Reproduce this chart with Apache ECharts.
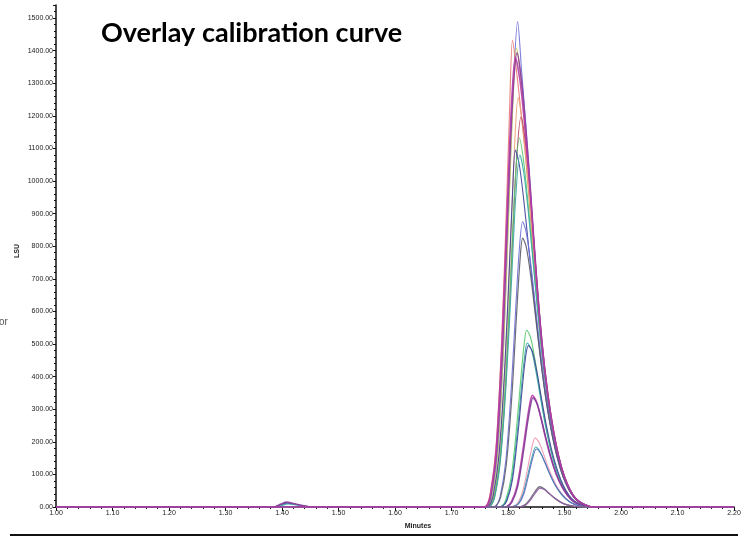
<!DOCTYPE html>
<html>
<head>
<meta charset="utf-8">
<script src="https://cdn.jsdelivr.net/npm/echarts@6/dist/echarts.min.js"></script>
<style>
  html, body { margin: 0; padding: 0; background: #ffffff; }
  #chart { width: 749px; height: 537px; }
</style>
</head>
<body>
<div id="chart"></div>
<script>
// Axis settings
const xTicks = [1.00, 1.10, 1.20, 1.30, 1.40, 1.50, 1.60, 1.70, 1.80, 1.90, 2.00, 2.10, 2.20];
const yTicks = [0, 100, 200, 300, 400, 500, 600, 700, 800, 900, 1000, 1100, 1200, 1300, 1400, 1500];

// Chromatogram traces: [minutes, LSU]
// Highest standard level
const std7a = [[1.00,0],[1.755,0],[1.764,3],[1.772,40],[1.782,175],[1.792,490],[1.802,960],[1.810,1310],[1.817,1489],[1.824,1340],[1.832,1160],[1.840,965],[1.850,710],[1.860,500],[1.870,345],[1.880,232],[1.890,148],[1.900,90],[1.910,50],[1.920,25],[1.935,8],[1.950,0],[2.20,0]];
const std7b = [[1.00,0],[1.752,0],[1.761,3],[1.769,45],[1.779,190],[1.789,520],[1.798,960],[1.803,1230],[1.808,1432],[1.815,1340],[1.824,1195],[1.832,1060],[1.840,890],[1.850,665],[1.860,475],[1.870,332],[1.880,226],[1.890,145],[1.900,88],[1.910,49],[1.920,24],[1.935,7],[1.950,0],[2.20,0]];
const std7c = [[1.00,0],[1.755,0],[1.764,3],[1.772,40],[1.782,172],[1.792,480],[1.802,930],[1.809,1250],[1.815,1408],[1.822,1330],[1.830,1170],[1.840,940],[1.850,695],[1.860,492],[1.870,340],[1.880,230],[1.890,147],[1.900,89],[1.910,50],[1.920,24],[1.935,7],[1.950,0],[2.20,0]];
const std7d = [[1.00,0],[1.37,0],[1.385,0],[1.398,9],[1.408,15],[1.42,11],[1.435,5],[1.455,0],[1.754,0],[1.763,3],[1.770,38],[1.780,168],[1.790,472],[1.800,930],[1.808,1250],[1.816,1393],[1.824,1305],[1.832,1150],[1.840,965],[1.850,715],[1.860,505],[1.870,350],[1.880,238],[1.890,152],[1.900,92],[1.910,52],[1.920,26],[1.935,8],[1.950,0],[2.20,0]];
const std7e = [[1.00,0],[1.753,0],[1.762,3],[1.769,40],[1.779,175],[1.789,490],[1.799,935],[1.806,1230],[1.813,1380],[1.821,1310],[1.830,1160],[1.840,950],[1.850,705],[1.860,500],[1.870,348],[1.880,236],[1.890,150],[1.900,91],[1.910,51],[1.920,25],[1.935,8],[1.950,0],[2.20,0]];

const std6a = [[1.00,0],[1.758,0],[1.767,3],[1.775,40],[1.785,170],[1.795,430],[1.805,830],[1.812,1120],[1.818,1255],[1.825,1185],[1.833,1040],[1.842,850],[1.850,670],[1.860,480],[1.870,335],[1.880,228],[1.890,145],[1.900,87],[1.910,48],[1.920,23],[1.935,7],[1.950,0],[2.20,0]];
const std6b = [[1.00,0],[1.760,0],[1.769,3],[1.777,38],[1.787,160],[1.797,410],[1.807,780],[1.815,1060],[1.823,1197],[1.830,1130],[1.838,990],[1.846,810],[1.855,610],[1.865,430],[1.875,296],[1.885,195],[1.895,122],[1.905,72],[1.915,38],[1.925,18],[1.940,5],[1.952,0],[2.20,0]];
const std6c = [[1.00,0],[1.759,0],[1.768,3],[1.776,36],[1.786,155],[1.796,395],[1.806,760],[1.813,1010],[1.820,1132],[1.827,1070],[1.835,940],[1.844,770],[1.852,610],[1.862,440],[1.872,305],[1.882,205],[1.892,130],[1.902,78],[1.912,42],[1.922,20],[1.937,6],[1.950,0],[2.20,0]];
const std6d = [[1.00,0],[1.37,0],[1.386,0],[1.399,7],[1.409,12],[1.421,9],[1.436,4],[1.455,0],[1.757,0],[1.766,3],[1.774,38],[1.784,160],[1.794,420],[1.803,760],[1.808,960],[1.813,1095],[1.820,1050],[1.828,940],[1.837,790],[1.846,640],[1.856,480],[1.866,345],[1.876,240],[1.886,160],[1.896,100],[1.906,60],[1.916,32],[1.928,12],[1.945,0],[2.20,0]];
const std6e = [[1.00,0],[1.37,0],[1.386,0],[1.400,5],[1.410,9],[1.422,7],[1.437,3],[1.455,0],[1.760,0],[1.769,3],[1.777,34],[1.787,150],[1.797,385],[1.807,720],[1.814,960],[1.821,1080],[1.828,1025],[1.836,905],[1.845,740],[1.854,580],[1.864,420],[1.874,292],[1.884,196],[1.894,124],[1.904,74],[1.914,40],[1.924,19],[1.938,6],[1.950,0],[2.20,0]];

const std5a = [[1.00,0],[1.769,0],[1.778,3],[1.786,32],[1.796,140],[1.806,370],[1.814,620],[1.820,790],[1.826,875],[1.832,845],[1.840,750],[1.849,610],[1.858,470],[1.868,335],[1.878,232],[1.888,152],[1.898,94],[1.908,54],[1.918,28],[1.930,10],[1.945,0],[2.20,0]];
const std5b = [[1.00,0],[1.770,0],[1.779,3],[1.787,30],[1.797,130],[1.807,345],[1.815,585],[1.821,750],[1.826,825],[1.832,800],[1.840,712],[1.849,580],[1.858,448],[1.868,320],[1.878,222],[1.888,146],[1.898,90],[1.908,52],[1.918,27],[1.930,10],[1.945,0],[2.20,0]];

const std4a = [[1.00,0],[1.779,0],[1.788,2],[1.796,22],[1.806,95],[1.816,260],[1.824,420],[1.829,505],[1.833,543],[1.840,520],[1.848,450],[1.856,362],[1.865,268],[1.875,182],[1.885,118],[1.895,72],[1.905,40],[1.915,20],[1.928,7],[1.942,0],[2.20,0]];
const std4b = [[1.00,0],[1.780,0],[1.789,2],[1.797,20],[1.807,88],[1.817,240],[1.825,390],[1.830,470],[1.834,503],[1.841,485],[1.849,420],[1.857,340],[1.866,252],[1.876,172],[1.886,112],[1.896,68],[1.906,38],[1.916,19],[1.929,7],[1.943,0],[2.20,0]];
const std4c = [[1.00,0],[1.781,0],[1.790,2],[1.798,19],[1.808,85],[1.818,232],[1.826,378],[1.831,458],[1.836,495],[1.843,478],[1.851,415],[1.859,336],[1.868,250],[1.878,170],[1.888,110],[1.898,66],[1.908,36],[1.918,18],[1.930,6],[1.944,0],[2.20,0]];

const std3a = [[1.00,0],[1.789,0],[1.798,2],[1.806,16],[1.816,65],[1.826,170],[1.834,268],[1.839,320],[1.843,343],[1.850,325],[1.858,275],[1.866,215],[1.875,155],[1.885,102],[1.895,63],[1.905,36],[1.915,18],[1.928,6],[1.942,0],[2.20,0]];
const std3b = [[1.00,0],[1.790,0],[1.799,2],[1.807,15],[1.817,62],[1.827,165],[1.835,262],[1.840,312],[1.844,335],[1.851,318],[1.859,270],[1.867,212],[1.876,153],[1.886,100],[1.896,62],[1.906,35],[1.916,17],[1.929,6],[1.943,0],[2.20,0]];

const std2a = [[1.00,0],[1.800,0],[1.809,2],[1.817,12],[1.826,48],[1.834,112],[1.841,172],[1.848,212],[1.855,198],[1.863,162],[1.872,118],[1.882,78],[1.892,48],[1.902,27],[1.912,13],[1.925,4],[1.940,0],[2.20,0]];
const std2b = [[1.00,0],[1.801,0],[1.810,2],[1.818,10],[1.827,42],[1.835,98],[1.842,150],[1.849,184],[1.856,172],[1.864,142],[1.873,104],[1.883,68],[1.893,42],[1.903,24],[1.913,12],[1.926,4],[1.940,0],[2.20,0]];
const std2c = [[1.00,0],[1.802,0],[1.811,2],[1.819,10],[1.828,40],[1.836,95],[1.843,145],[1.850,178],[1.857,167],[1.865,138],[1.874,101],[1.884,66],[1.894,41],[1.904,23],[1.914,11],[1.927,4],[1.941,0],[2.20,0]];

// Lowest standard level
const std1a = [[1.00,0],[1.815,0],[1.823,1],[1.831,8],[1.839,24],[1.847,45],[1.856,62],[1.864,56],[1.872,43],[1.882,28],[1.892,16],[1.904,7],[1.918,2],[1.930,0],[2.20,0]];
const std1b = [[1.00,0],[1.816,0],[1.824,1],[1.832,7],[1.840,22],[1.848,42],[1.857,58],[1.865,53],[1.873,41],[1.883,27],[1.893,15],[1.905,6],[1.919,2],[1.931,0],[2.20,0]];

const traces = [
  { name: 'Std 7 (1)', data: std7a, color: '#6d70d8', width: 1.1 },
  { name: 'Std 7 (2)', data: std7b, color: '#e87474', width: 1.1 },
  { name: 'Std 7 (3)', data: std7c, color: '#c8cf5c', width: 1.1 },
  { name: 'Std 6 (1)', data: std6a, color: '#eca376', width: 1.1 },
  { name: 'Std 6 (2)', data: std6b, color: '#b5405e', width: 1.1 },
  { name: 'Std 6 (3)', data: std6c, color: '#58c86c', width: 1.1 },
  { name: 'Std 6 (4)', data: std6d, color: '#3e3f98', width: 1.1 },
  { name: 'Std 6 (5)', data: std6e, color: '#35aaa2', width: 1.1 },
  { name: 'Std 5 (1)', data: std5a, color: '#6d70d8', width: 1.1 },
  { name: 'Std 5 (2)', data: std5b, color: '#5c5c6c', width: 1.2 },
  { name: 'Std 4 (1)', data: std4a, color: '#58c86c', width: 1.1 },
  { name: 'Std 4 (2)', data: std4b, color: '#35aaa2', width: 1.1 },
  { name: 'Std 4 (3)', data: std4c, color: '#3e3f98', width: 1.1 },
  { name: 'Std 3 (1)', data: std3a, color: '#b83aa4', width: 1.6 },
  { name: 'Std 3 (2)', data: std3b, color: '#7e3c98', width: 1.4 },
  { name: 'Std 2 (1)', data: std2a, color: '#ee92b2', width: 1.1 },
  { name: 'Std 2 (2)', data: std2b, color: '#35aaa2', width: 1.1 },
  { name: 'Std 2 (3)', data: std2c, color: '#5a68c0', width: 1.1 },
  { name: 'Std 1 (1)', data: std1a, color: '#6a6a78', width: 1.4 },
  { name: 'Std 1 (2)', data: std1b, color: '#8e5aa0', width: 1.2 },
  { name: 'Std 7 (4)', data: std7d, color: '#8a3a9c', width: 1.6 },
  { name: 'Std 7 (5)', data: std7e, color: '#b53ba6', width: 1.5 }
];

const chart = echarts.init(document.getElementById('chart'), null, { renderer: 'canvas' });

const labelFont = { fontFamily: 'Liberation Sans, Arial, sans-serif', fontSize: 7, color: '#1a1a1a' };

chart.setOption({
  animation: false,
  backgroundColor: '#ffffff',
  grid: { left: 56, right: 15, top: 5, bottom: 30, containLabel: false },
  xAxis: {
    type: 'value',
    min: xTicks[0],
    max: xTicks[xTicks.length - 1],
    interval: 0.1,
    axisLine: { show: true, lineStyle: { color: '#111', width: 1.5 } },
    axisTick: { show: true, inside: false, length: 4, lineStyle: { color: '#111', width: 1 } },
    minorTick: { show: true, splitNumber: 5, length: 2, lineStyle: { color: '#111', width: 1 } },
    splitLine: { show: false },
    axisLabel: Object.assign({ margin: 3, formatter: v => v.toFixed(2) }, labelFont)
  },
  yAxis: {
    type: 'value',
    min: yTicks[0],
    max: 1540,
    interval: 100,
    axisLine: { show: true, lineStyle: { color: '#111', width: 1.5 } },
    axisTick: { show: true, length: 3, lineStyle: { color: '#111', width: 1 } },
    minorTick: { show: true, splitNumber: 5, length: 2, lineStyle: { color: '#111', width: 1 } },
    splitLine: { show: false },
    axisLabel: Object.assign({ margin: 3, showMaxLabel: false, formatter: v => v.toFixed(2) }, labelFont)
  },
  series: traces.map(t => ({
    name: t.name,
    type: 'line',
    data: t.data,
    showSymbol: false,
    symbol: 'none',
    smooth: 0.3,
    clip: true,
    lineStyle: { color: t.color, width: t.width, opacity: 0.9 },
    emphasis: { disabled: true },
    silent: true
  })),
  graphic: [
    {
      type: 'text', x: 101, y: 33,
      style: { text: 'Overlay calibration curve', fontFamily: 'Lato, "Open Sans", sans-serif', fontWeight: 'bold', fontSize: 27, fill: '#000', align: 'left', verticalAlign: 'middle' }
    },
    {
      type: 'text', x: 17, y: 251, rotation: Math.PI / 2,
      style: { text: 'LSU', fontFamily: 'Liberation Sans, Arial, sans-serif', fontWeight: 'bold', fontSize: 7, fill: '#222', align: 'center', verticalAlign: 'middle' }
    },
    {
      type: 'text', x: 418, y: 526,
      style: { text: 'Minutes', fontFamily: 'Liberation Sans, Arial, sans-serif', fontWeight: 'bold', fontSize: 7, fill: '#222', align: 'center', verticalAlign: 'middle' }
    },
    {
      type: 'text', x: -1, y: 322,
      style: { text: 'or', fontFamily: 'Liberation Sans, Arial, sans-serif', fontSize: 10, fill: '#555', align: 'left', verticalAlign: 'middle' }
    },
    {
      type: 'line', shape: { x1: 10, y1: 535, x2: 738, y2: 535 },
      style: { stroke: '#111', lineWidth: 2 }
    }
  ]
});
</script>
</body>
</html>
